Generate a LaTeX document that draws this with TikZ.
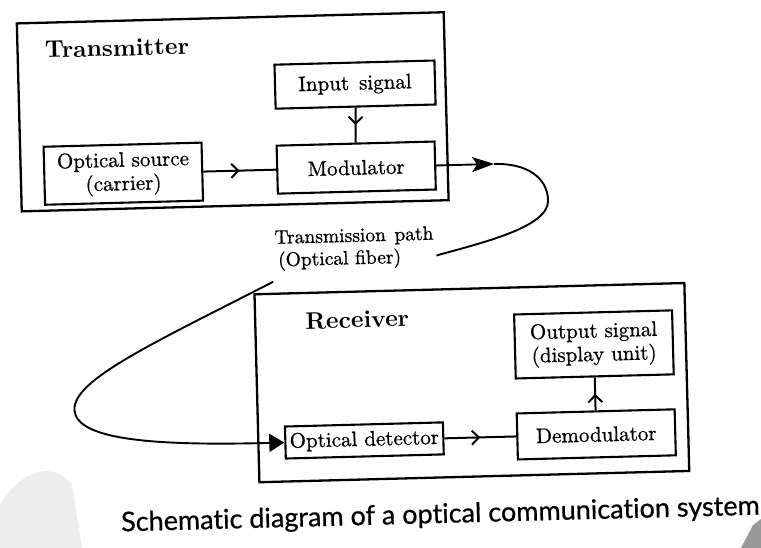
\documentclass[tikz,border=0pt]{standalone}
\usepackage{fontspec}
\setmainfont{lmroman10-regular.otf}[BoldFont=lmroman10-bold.otf]
\newfontfamily\boxfont{lmroman10-regular.otf}[FakeBold=0.8]
\newfontfamily\capfont{Lato}[Ligatures=NoCommon, FakeBold=0.6]
\usetikzlibrary{arrows.meta,decorations.markings}
\tikzset{
  blk/.style={draw, line width=2.1pt, inner sep=0pt, align=center,
    font=\boxfont\fontsize{21}{23.5}\selectfont},
  frame/.style={draw, line width=2.3pt, inner sep=0pt},
  ttl/.style={font=\bfseries\fontsize{24}{26}\selectfont},
  conn/.style={line width=2pt, postaction={decorate},
    decoration={markings, mark=at position 0.5 with {\arrow{Straight Barb[length=7pt,width=14pt,line width=2pt]}}}},
  fiber/.style={line width=1.9pt},
}
\begin{document}
\begin{tikzpicture}[x=1pt,y=-1pt]
\fill[white] (0,0) rectangle (761,548);
\useasboundingbox (0,0) rectangle (761,548);
% scan artefacts
\fill[black!7] (0,548) -- (0,505) .. controls (20,470) and (55,460) .. (72,485) -- (82,548) -- cycle;
\fill[black!40] (741,548) -- (753,525) -- (761,519) -- (761,548) -- cycle;
\begin{scope}[rotate around={1.5:(380,274)}, every node/.append style={transform shape}]
  % transmitter
  \node[frame, minimum width=427pt, minimum height=188pt] (tx) at (237,108) {};
  \node[ttl] (ttxt) at (123,41) {Transmitter};
  \node[blk, minimum width=160pt, minimum height=44pt] (inp) at (360,84) {Input\hspace{3pt} signal};
  \node[blk, minimum width=158pt, minimum height=58pt] (src) at (126,167) {Optical source\\(carrier)};
  \node[blk, minimum width=158pt, minimum height=48pt] (mod) at (359,167) {Modulator};
  \draw[conn] (src.east) -- (mod.west);
  \draw[conn] (inp.south) -- (mod.north);
  % transmission path
  \coordinate (fa) at (497,167);
  \coordinate (f1) at (550,205);
  \coordinate (f2) at (437,257);
  \draw[fiber, -{Stealth[length=22pt,width=15pt,inset=5pt]}] (mod.east) -- (fa);
  \draw[fiber] (fa) .. controls (530,167) and (550,182) .. (f1)
               .. controls (550,232) and (480,246) .. (f2);
  \node[align=left, font=\boxfont\fontsize{19.5}{22.5}\selectfont] (tp) at (355,248) {Transmission\hspace{2pt} path\\\hspace{3pt}(Optical fiber)};
  % receiver
  \node[frame, minimum width=430pt, minimum height=188pt] (rx) at (469,385) {};
  \node[ttl] (rtxt) at (356,319) {Receiver};
  \node[blk, minimum width=158pt, minimum height=64pt] (out) at (592,350) {Output signal\\(display unit)};
  \node[blk, minimum width=158pt, minimum height=46pt] (dem) at (592,440) {Demodulator};
  \node[blk, minimum width=158pt, minimum height=32pt] (det) at (360,440) {Optical detector};
  \draw[conn] (det.east) -- (dem.west);
  \draw[conn] (dem.north) -- (out.south);
  \coordinate (g0) at (273,279);
  \coordinate (g1) at (71,402);
  \draw[fiber, -{Triangle[length=15pt,width=18pt]}] (g0) .. controls (150,338) and (70,372) .. (g1)
       .. controls (72,432) and (150,440) .. (det.west);
  % caption
  \node[font=\capfont\fontsize{27}{30}\selectfont] (cap) at (434,517) {Schematic diagram of a optical communication system};
\end{scope}
\end{tikzpicture}
\end{document}
